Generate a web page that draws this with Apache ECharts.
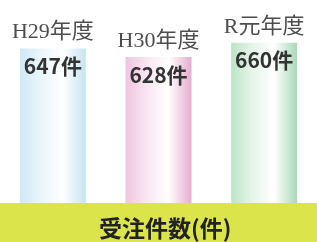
<!DOCTYPE html>
<html>
<head>
<meta charset="utf-8">
<script src="https://cdn.jsdelivr.net/npm/echarts@6/dist/echarts.min.js"></script>
<style>
  html, body { margin: 0; padding: 0; background: #fff; }
  #chart { width: 317px; height: 242px; }
</style>
</head>
<body>
<div id="chart"></div>
<script>
// 年度
const categories = ['H29年度', 'H30年度', 'R元年度']
// 受注件数
const counts = [647, 628, 660]
const unit = '件'
const caption = '受注件数(件)'

// 柱の色 (左端, 中央寄り, 右端)
const barColors = [
  ['#cfe8f5', '#e8f5fb', '#c6e3f2'],
  ['#f1c4de', '#f8e4f0', '#e7acd0'],
  ['#bde3c8', '#e3f4e8', '#a8d9b8']
]

const chart = echarts.init(document.getElementById('chart'))

const makeGradient = (c) => new echarts.graphic.LinearGradient(0, 0, 1, 0, [
  { offset: 0, color: c[0] },
  { offset: 0.3, color: c[1] },
  { offset: 0.65, color: '#ffffff' },
  { offset: 1, color: c[2] }
])

const option = {
  animation: false,
  grid: { left: 0, width: 330, top: 25, height: 178 },
  xAxis: {
    type: 'category',
    data: categories,
    axisLine: { show: false },
    axisTick: { show: false },
    axisLabel: { show: false }
  },
  yAxis: {
    type: 'value',
    min: 300,
    max: 700,
    show: false,
    splitLine: { show: false }
  },
  series: [
    {
      type: 'bar',
      barWidth: 66,
      data: counts.map((v, i) => ({ value: v, itemStyle: { color: makeGradient(barColors[i]) } })),
      label: {
        show: true,
        position: 'top',
        distance: 5,
        formatter: (p) => categories[p.dataIndex],
        fontFamily: '"Liberation Serif", "Noto Sans CJK JP", serif',
        fontSize: 22,
        color: '#4d4d4d'
      }
    },
    {
      type: 'bar',
      barWidth: 66,
      barGap: '-100%',
      data: counts,
      itemStyle: { color: 'rgba(0,0,0,0)' },
      label: {
        show: true,
        position: 'insideTop',
        distance: 7,
        formatter: (p) => p.value + unit,
        fontFamily: '"Noto Sans CJK JP", "Noto Sans", sans-serif',
        fontWeight: 'bold',
        fontSize: 21,
        color: '#333333'
      }
    }
  ],
  graphic: [
    {
      type: 'rect',
      left: 0,
      top: 203,
      shape: { width: 317, height: 39 },
      style: { fill: '#dbe54b' },
      z: 10
    },
    {
      type: 'text',
      left: 99,
      top: 217,
      style: {
        text: caption,
        fontFamily: '"Noto Sans CJK JP", sans-serif',
        fontWeight: 'bold',
        fontSize: 23,
        fill: '#222222'
      },
      z: 11
    }
  ]
}

chart.setOption(option)
</script>
</body>
</html>
